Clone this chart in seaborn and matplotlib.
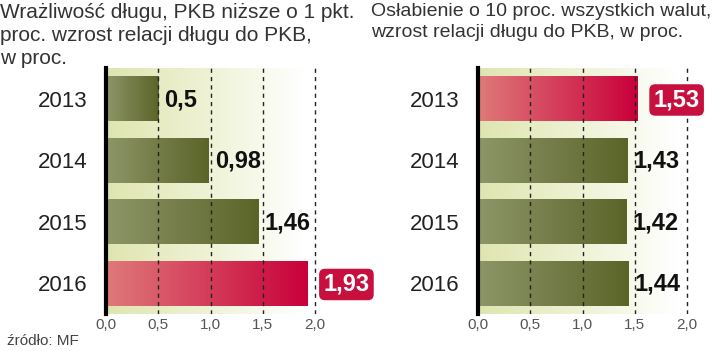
import numpy as np
import pandas as pd
import matplotlib
matplotlib.use("Agg")
import matplotlib.pyplot as plt
import matplotlib.colors as mcolors
import seaborn as sns

years = ["2013", "2014", "2015", "2016"]
left_values = [0.5, 0.98, 1.46, 1.93]
right_values = [1.53, 1.43, 1.42, 1.44]
left_highlight = "2016"
right_highlight = "2013"
xticks = [0.0, 0.5, 1.0, 1.5, 2.0]
xtick_labels = ["0,0", "0,5", "1,0", "1,5", "2,0"]
left_title = "Wrażliwość długu, PKB niższe o 1 pkt.\nproc. wzrost relacji długu do PKB,\nw proc."
right_title = "Osłabienie o 10 proc. wszystkich walut,\nwzrost relacji długu do PKB, w proc."
source = "źródło: MF"

sns.set_theme(style="white")
FAM = ["Liberation Sans Narrow", "Liberation Sans", "DejaVu Sans"]
plt.rcParams["font.family"] = FAM

fig = plt.figure(figsize=(7.2, 3.51), dpi=100)
px_unit = 104.5
XMAX = 2.2
W = XMAX * px_unit / 720
ax_bottom = 1 - 314 / 351
ax_h = (314 - 68) / 351
axL = fig.add_axes([106 / 720, ax_bottom, W, ax_h])
axR = fig.add_axes([478 / 720, ax_bottom, W, ax_h])

olive = mcolors.LinearSegmentedColormap.from_list("olive", ["#8d9668", "#5b6428"])
red = mcolors.LinearSegmentedColormap.from_list("red", ["#df7a7a", "#c9003a"])
bg = mcolors.LinearSegmentedColormap.from_list("bg", ["#dfe5b0", "#eef2d4", "#ffffff"])
grad = np.linspace(0, 1, 256).reshape(1, -1)


def draw(ax, values, hl):
    df = pd.DataFrame({"year": years, "value": values})
    sns.barplot(data=df, x="value", y="year", orient="h", ax=ax, width=0.73,
                color="#5b6428", saturation=1)
    ax.imshow(grad, cmap=bg, extent=(0, 1.9, 3.5, -0.5), aspect="auto", zorder=0)
    for patch, yr, v in zip(ax.patches, years, values):
        b = patch.get_bbox()
        cm = red if yr == hl else olive
        patch.set_facecolor("none")
        patch.set_edgecolor("none")
        im = ax.imshow(grad, cmap=cm, extent=(b.x0, b.x1, b.y1, b.y0),
                       aspect="auto", zorder=2)
        im.set_clip_path(patch)
        yc = (b.y0 + b.y1) / 2
        lab = f"{v:g}".replace(".", ",")
        if yr == hl:
            ax.text(v + 0.15, yc + 0.02, lab, ha="left", va="center", color="white",
                    fontsize=17, fontweight="bold", family=FAM, zorder=6,
                    bbox=dict(boxstyle="round,pad=0.18,rounding_size=0.25",
                              fc="#c8103e", ec="none"))
        else:
            ax.text(v + 0.06, yc + 0.02, lab, ha="left", va="center", color="#111111",
                    fontsize=17, fontweight="bold", family=FAM, zorder=6)
    for x in xticks[1:]:
        ax.axvline(x, color="#222222", lw=1, ls=(0, (3, 3)), zorder=5)
    ax.set_xlim(0, XMAX)
    ax.set_ylim(3.5, -0.5)
    ax.set_xlabel("")
    ax.set_ylabel("")
    ax.set_xticks(xticks)
    ax.set_xticklabels(xtick_labels, color="#555555", fontsize=11, family=FAM)
    ax.tick_params(axis="x", length=0, pad=3)
    ax.tick_params(axis="y", length=0, pad=13)
    for t in ax.get_yticklabels():
        t.set_fontsize(16)
        t.set_color("#222222")
        t.set_family(["Liberation Sans", "DejaVu Sans"])
    for s in ["top", "right", "bottom"]:
        ax.spines[s].set_visible(False)
    ax.spines["left"].set_linewidth(3)
    ax.spines["left"].set_color("black")
    ax.spines["left"].set_zorder(7)
    ax.patch.set_alpha(0)


draw(axL, left_values, left_highlight)
draw(axR, right_values, right_highlight)

fig.text(0 / 720, 1 - 3 / 351, left_title, ha="left", va="top", fontsize=15,
         color="#333333", linespacing=1.25, family=FAM)
fig.text(371 / 720, 1 - 3 / 351, right_title, ha="left", va="top", fontsize=14,
         color="#333333", linespacing=1.3, family=FAM)
fig.text(7 / 720, 1 - 341 / 351, source, ha="left", va="center", fontsize=11,
         color="#444444", family=FAM)

fig.savefig("out.png", dpi=100)
